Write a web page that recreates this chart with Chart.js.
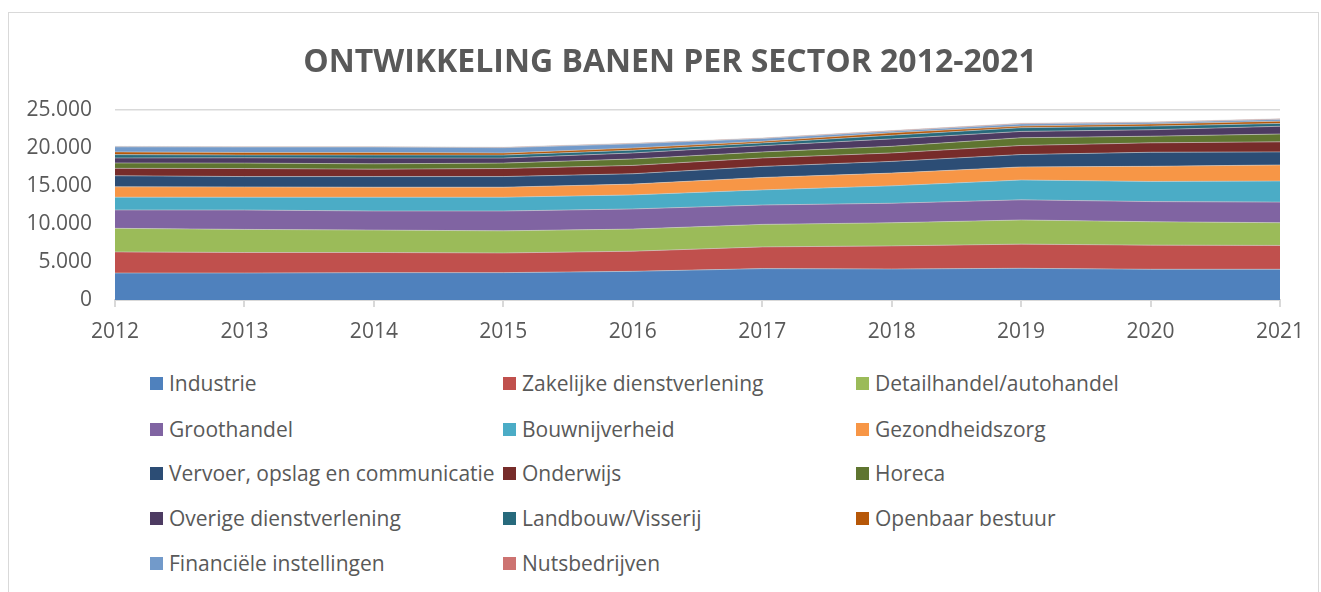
<!DOCTYPE html>
<html>
<head>
<meta charset="utf-8">
<script src="https://cdn.jsdelivr.net/npm/chart.js@4.4.1/dist/chart.umd.min.js"></script>
<style>
    body { margin: 0; background: #fff; font-family: 'Open Sans', sans-serif; overflow: hidden; }
    #frame { position: absolute; left: 8px; top: 12px; width: 1309px; height: 600px; border: 1px solid #d9d9d9; }
    #chart { position: absolute; left: 0; top: 0; }
    #title { position: absolute; left: 0; width: 1340px; top: 38px; text-align: center; white-space: nowrap;
             color: #595959; font-size: 32px; font-weight: bold; line-height: 44px; }
    .legend-item { position: absolute; display: flex; align-items: center; color: #595959; font-size: 21px; white-space: nowrap; }
    .legend-box { width: 13px; height: 13px; margin-right: 6px; }
</style>
</head>
<body>
<div id="frame"></div>
<canvas id="chart" width="1321" height="360"></canvas>
<div id="title"></div>
<div id="legend"></div>
<script>
// Years on the x axis
const years = ['2012', '2013', '2014', '2015', '2016', '2017', '2018', '2019', '2020', '2021'];

// Jobs per sector
const industrie = [3550, 3550, 3600, 3600, 3770, 4130, 4080, 4170, 4040, 4040];
const zakelijk = [2780, 2700, 2650, 2590, 2650, 2860, 3040, 3180, 3180, 3140];
const detailhandel = [3100, 3040, 2950, 2910, 2910, 2960, 3040, 3180, 3080, 2990];
const groothandel = [2420, 2550, 2510, 2610, 2650, 2550, 2570, 2650, 2650, 2710];
const bouw = [1680, 1680, 1810, 1810, 1850, 1990, 2290, 2610, 2650, 2770];
const gezondheid = [1360, 1360, 1320, 1320, 1420, 1630, 1680, 1720, 1990, 2120];
const vervoer = [1460, 1360, 1400, 1400, 1360, 1460, 1540, 1630, 1850, 1720];
const onderwijs = [970, 1060, 980, 1060, 1100, 1110, 1110, 1190, 1240, 1320];
const horeca = [710, 710, 700, 710, 850, 790, 870, 1020, 870, 1030];
const overige = [660, 700, 750, 660, 790, 830, 980, 830, 850, 1020];
const landbouw = [440, 360, 400, 400, 370, 360, 480, 490, 480, 370];
const openbaar = [360, 340, 340, 270, 270, 210, 320, 210, 270, 300];
const financieel = [660, 710, 710, 700, 560, 360, 210, 290, 190, 230];
const nuts = [60, 60, 60, 60, 70, 70, 80, 80, 80, 80];

const chartTitle = 'ONTWIKKELING BANEN PER SECTOR 2012-2021';
const sectorNames = [
    'Industrie', 'Zakelijke dienstverlening', 'Detailhandel/autohandel',
    'Groothandel', 'Bouwnijverheid', 'Gezondheidszorg',
    'Vervoer, opslag en communicatie', 'Onderwijs', 'Horeca',
    'Overige dienstverlening', 'Landbouw/Visserij', 'Openbaar bestuur',
    'Financiële instellingen', 'Nutsbedrijven'
];
const sectorValues = [
    industrie, zakelijk, detailhandel, groothandel, bouw, gezondheid,
    vervoer, onderwijs, horeca, overige, landbouw, openbaar, financieel, nuts
];
const sectorColors = [
    '#4F81BD', '#C0504D', '#9BBB59', '#8064A2', '#4BACC6', '#F79646',
    '#2C4D75', '#772C2A', '#5F7530', '#4D3B62', '#276A7C', '#B65708',
    '#729ACA', '#CD7371'
];

const textColor = '#595959';
const gridColor = '#d9d9d9';

function formatThousands(v) {
    return String(v).replace(/\B(?=(\d{3})+(?!\d))/g, '.');
}

document.getElementById('title').textContent = chartTitle;

const datasets = sectorNames.map((name, i) => ({
    label: name,
    data: sectorValues[i],
    backgroundColor: sectorColors[i],
    borderColor: 'rgba(210, 210, 210, 0.55)',
    borderWidth: 1,
    pointRadius: 0,
    tension: 0,
    fill: i === 0 ? 'origin' : '-1'
}));

const ctx = document.getElementById('chart').getContext('2d');
const chart = new Chart(ctx, {
    type: 'line',
    data: { labels: years, datasets: datasets },
    options: {
        responsive: false,
        animation: false,
        devicePixelRatio: 1,
        layout: { padding: { left: 15, right: 41, top: 110, bottom: 5 } },
        plugins: {
            legend: { display: false },
            tooltip: { enabled: false },
            title: { display: false }
        },
        scales: {
            x: {
                stacked: true,
                offset: false,
                grid: { drawOnChartArea: false, drawTicks: true, tickLength: 7, color: gridColor, lineWidth: 2 },
                border: { color: gridColor, width: 2 },
                ticks: { color: textColor, font: { family: 'Open Sans', size: 21 }, padding: 12, maxRotation: 0 },
                afterFit: scale => { scale.height = 55; }
            },
            y: {
                stacked: true,
                min: 0,
                max: 25000,
                grid: { color: gridColor, lineWidth: 1.5, drawTicks: false },
                border: { display: false },
                ticks: {
                    stepSize: 5000,
                    padding: 23,
                    color: textColor,
                    font: { family: 'Open Sans', size: 21 },
                    callback: v => formatThousands(v)
                },
                afterFit: scale => { scale.width = 100; }
            }
        }
    }
});

// Legend in a three-column grid, built from the chart's datasets
function buildLegend() {
    const legend = document.getElementById('legend');
    const colX = [150, 503, 856];
    const rowY = [383, 429, 473, 518, 563];
    chart.data.datasets.forEach((ds, i) => {
        const item = document.createElement('div');
        item.className = 'legend-item';
        item.style.left = colX[i % 3] + 'px';
        item.style.top = (rowY[Math.floor(i / 3)] - 15) + 'px';
        item.style.height = '30px';
        item.innerHTML = `<span class="legend-box" style="background:${ds.backgroundColor}"></span><span>${ds.label}</span>`;
        legend.appendChild(item);
    });
}
buildLegend();
</script>
</body>
</html>
